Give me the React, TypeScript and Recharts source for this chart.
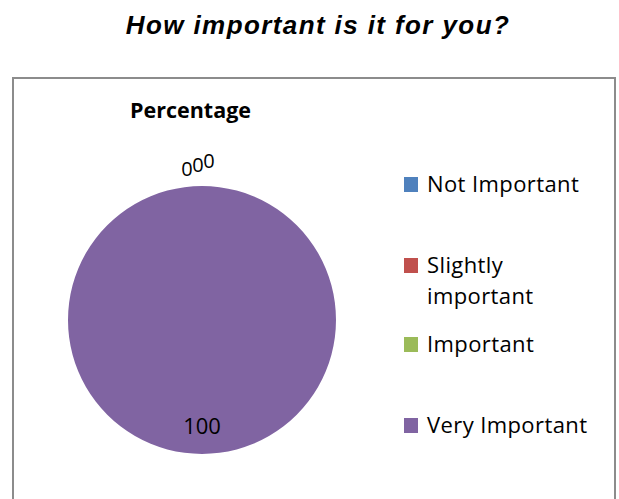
import React from 'react';
import { PieChart, Pie, Cell, Legend } from 'recharts';

// chart values
const categories = ['Not Important', 'Slightly important', 'Important', 'Very Important'];
const percentages = [0, 0, 0, 100];
const colors = ['#4F81BD', '#C0504D', '#9BBB59', '#8064A2'];

const chartTitle = 'How important is it for you?';
const seriesName = 'Percentage';

const data = categories.map((name, i) => ({ name, value: percentages[i] }));

const RAD = Math.PI / 180;
const labelFont = '"Open Sans", "Noto Sans", sans-serif';

// zero slices sit at the top and Excel fans their labels out a little
const renderLabel = (props: any) => {
  const { cx, cy, midAngle, outerRadius, index, value } = props;
  let x: number;
  let y: number;
  let size = 22;
  if (value === 0) {
    const r = outerRadius + 22;
    x = cx + r * Math.cos(-midAngle * RAD) + (index - 1) * 11 - 4;
    y = cy + r * Math.sin(-midAngle * RAD) - (index - 1) * 4;
    size = 20;
  } else {
    const r = outerRadius * 0.78;
    x = cx + r * Math.cos(-midAngle * RAD);
    y = cy + r * Math.sin(-midAngle * RAD);
  }
  return (
    <text x={x} y={y} textAnchor="middle" dominantBaseline="central"
      fontFamily={labelFont} fontSize={size} fill="#000">
      {value}
    </text>
  );
};

// legend rows are spaced unevenly in the original, so place each one
const legendTops = [0, 81, 160, 241];

const renderLegend = (props: any) => {
  const payload = [...(props.payload || [])].sort(
    (a: any, b: any) => categories.indexOf(a.value) - categories.indexOf(b.value)
  );
  return (
    <div style={{ position: 'relative', width: 200, height: 280, fontFamily: labelFont }}>
      {payload.map((entry: any, i: number) => (
        <div key={entry.value} style={{ position: 'absolute', left: 0, top: legendTops[i], display: 'flex' }}>
          <div style={{ width: 14, height: 15, background: entry.color, marginTop: 9, marginRight: 9, flexShrink: 0 }} />
          <div style={{ fontSize: 22, lineHeight: '31px', letterSpacing: 0.4, color: '#000', width: 174 }}>{entry.value}</div>
        </div>
      ))}
    </div>
  );
};

export default function App() {
  return (
    <div style={{ position: 'absolute', left: 0, top: 0, width: 619, height: 499, overflow: 'hidden', background: '#fff' }}>
      <div style={{
        position: 'absolute', left: 0, top: 10, width: 636, textAlign: 'center', whiteSpace: 'nowrap',
        fontFamily: '"Liberation Sans", Arial, sans-serif', fontWeight: 'bold', fontStyle: 'italic',
        fontSize: 26, letterSpacing: 1.4, lineHeight: 'normal',
      }}>
        {chartTitle}
      </div>
      <div style={{
        position: 'absolute', left: 12, top: 77, width: 604, height: 440,
        border: '2px solid #8c8c8c', boxSizing: 'border-box',
      }} />
      <div style={{
        position: 'absolute', left: 130, top: 95, fontFamily: labelFont, fontWeight: 'bold',
        fontSize: 21.5, lineHeight: 'normal',
      }}>
        {seriesName}
      </div>
      <div style={{ position: 'absolute', left: 0, top: 0 }}>
        <PieChart width={619} height={499} margin={{ top: 0, right: 0, bottom: 0, left: 0 }}>
          <Pie
            data={data}
            dataKey="value"
            nameKey="name"
            cx={202}
            cy={320}
            outerRadius={134}
            startAngle={90}
            endAngle={-270}
            stroke="none"
            label={renderLabel}
            labelLine={false}
            isAnimationActive={false}
          >
            {data.map((d, i) => (
              <Cell key={d.name} fill={colors[i]} />
            ))}
          </Pie>
          <Legend
            layout="vertical"
            align="right"
            verticalAlign="top"
            content={renderLegend}
            wrapperStyle={{ left: 404, top: 168, width: 200 }}
          />
        </PieChart>
      </div>
    </div>
  );
}
